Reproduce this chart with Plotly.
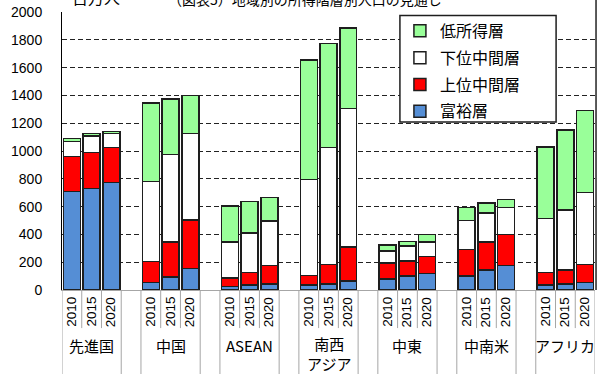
import plotly.graph_objects as go

# Regions, years and population by income class (million people)
regions = ["先進国", "中国", "ASEAN", "南西<br>アジア", "中東", "中南米", "アフリカ"]
years = ["2010", "2015", "2020"]

# Each list runs region by region, 2010 / 2015 / 2020 within a region
rich = [710, 730, 775, 55, 95, 155, 25, 35, 45, 35, 45, 65,
        80, 100, 120, 100, 145, 175, 35, 45, 55]
upper_middle = [250, 260, 250, 150, 250, 350, 60, 90, 130, 70, 140, 245,
                115, 110, 120, 190, 200, 225, 90, 100, 130]
lower_middle = [110, 118, 100, 575, 630, 620, 260, 285, 320, 690, 840, 995,
                85, 105, 105, 210, 210, 195, 390, 430, 515]
low_income = [20, 17, 17, 565, 400, 275, 260, 225, 170, 860, 750, 580,
              45, 35, 53, 95, 70, 57, 515, 575, 590]

# stacked bottom to top; legend lists them top to bottom
series = [
    ("富裕層", rich, "#558ED5"),
    ("上位中間層", upper_middle, "#FF0000"),
    ("下位中間層", lower_middle, "#FFFFFF"),
    ("低所得層", low_income, "#99FF99"),
]

# one empty slot between region groups
GROUP = len(years) + 1
xpos = [g * GROUP + j for g in range(len(regions)) for j in range(len(years))]
xmax = (len(regions) - 1) * GROUP + len(years) - 0.5

CJK = "Noto Sans CJK JP"
LAT = "Liberation Sans, Arial"

fig = go.Figure()
for i, (name, vals, color) in enumerate(series):
    fig.add_trace(go.Bar(
        x=xpos, y=vals, name=name, legendgroup=name, width=0.86,
        legendrank=len(series) - i,
        marker=dict(color=color, line=dict(color="#1e1e1e", width=1.5)),
    ))

shapes = []
annotations = []
line_col = "#a6a6a6"
bottom = -0.32
for g in range(len(regions)):
    left = g * GROUP - 0.5
    right = g * GROUP + len(years) - 0.5
    for xv in (left, right):
        shapes.append(dict(type="line", xref="x", yref="paper", x0=xv, x1=xv,
                           y0=0, y1=bottom, line=dict(color=line_col, width=1)))
    for j in range(1, len(years)):
        xv = g * GROUP + j - 0.5
        shapes.append(dict(type="line", xref="x", yref="paper", x0=xv, x1=xv,
                           y0=0, y1=-0.137, line=dict(color=line_col, width=1)))
    for j, yr in enumerate(years):
        annotations.append(dict(x=g * GROUP + j, y=-0.079, xref="x", yref="paper",
                                text=yr, textangle=-90, showarrow=False,
                                xanchor="center", yanchor="middle",
                                font=dict(family=LAT, size=13.5, color="black")))
    label = regions[g]
    two_lines = "<br>" in label
    annotations.append(dict(x=g * GROUP + 1, y=-0.228 if two_lines else -0.198,
                            xref="x", yref="paper", text=label, showarrow=False,
                            xanchor="center", yanchor="middle", borderpad=0,
                            font=dict(family=CJK, size=15, color="black")))

# legend frame
shapes.append(dict(type="rect", xref="paper", yref="paper", x0=0.634, x1=0.927,
                   y0=0.604, y1=0.987, fillcolor="white", layer="above",
                   line=dict(color="#1e1e1e", width=1.5)))
# right border of the chart
shapes.append(dict(type="line", xref="paper", yref="paper", x0=1.002, x1=1.002,
                   y0=0, y1=1.05, line=dict(color="#555555", width=2)))

annotations.append(dict(x=0.064, y=1.054, xref="paper", yref="paper",
                        text="百万人", showarrow=False,
                        xanchor="center", yanchor="middle",
                        font=dict(family=CJK, size=16, color="black")))
annotations.append(dict(x=0.455, y=1.047, xref="paper", yref="paper",
                        text="（図表5）地域別の所得階層別人口の見通し", showarrow=False,
                        xanchor="center", yanchor="middle",
                        font=dict(family=CJK, size=14, color="black")))

fig.update_layout(
    width=597, height=374,
    margin=dict(l=62, r=2, t=12, b=84),
    barmode="stack",
    plot_bgcolor="white", paper_bgcolor="white",
    showlegend=True,
    legend=dict(x=0.634, y=0.993, xanchor="left", yanchor="top",
                traceorder="grouped", tracegroupgap=3,
                bgcolor="rgba(0,0,0,0)", borderwidth=0,
                font=dict(family=CJK, size=16, color="black")),
    shapes=shapes,
    annotations=annotations,
    xaxis=dict(range=[-0.5, xmax], showticklabels=False, showgrid=False,
               zeroline=False, showline=True, linecolor=line_col, linewidth=1),
    yaxis=dict(range=[0, 2000], dtick=200, showgrid=True, gridcolor="#222222",
               griddash="5px,3px", gridwidth=1, zeroline=False,
               showline=True, linecolor="black", linewidth=1,
               ticklabelstandoff=16,
               tickfont=dict(family=LAT, size=14, color="black")),
)

fig.write_html("out.html")
